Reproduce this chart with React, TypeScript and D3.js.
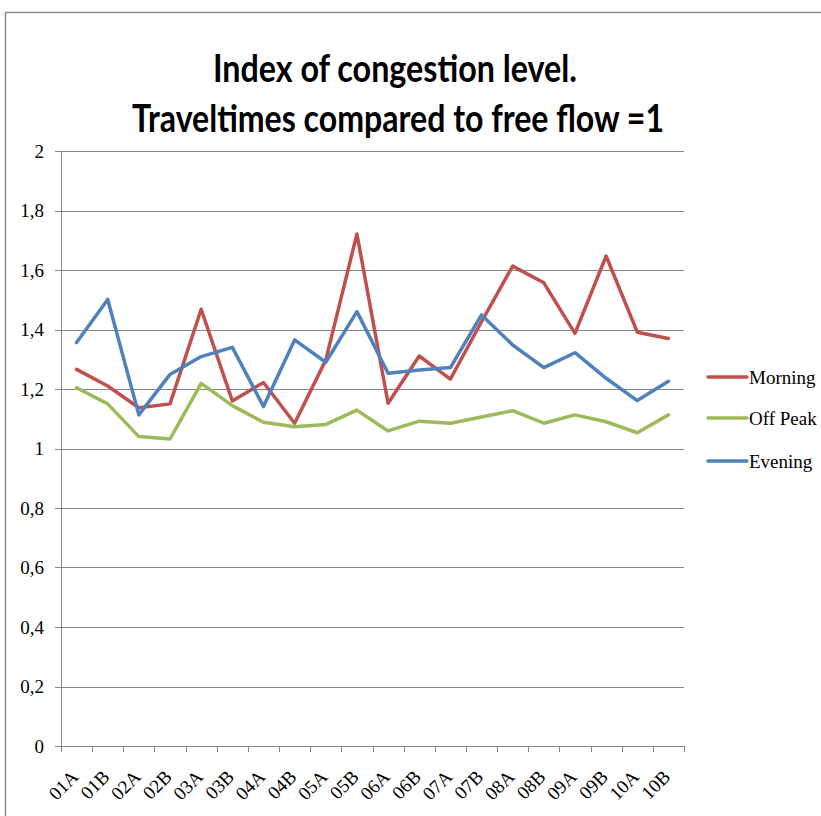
import React from "react";
import * as d3 from "d3";

const categories = ["01A","01B","02A","02B","03A","03B","04A","04B","05A","05B","06A","06B","07A","07B","08A","08B","09A","09B","10A","10B"];
const morning = [1.266,1.210,1.137,1.150,1.468,1.160,1.222,1.085,1.297,1.721,1.152,1.311,1.233,1.426,1.613,1.557,1.387,1.647,1.391,1.370];
const offPeak = [1.204,1.150,1.040,1.032,1.219,1.144,1.088,1.073,1.081,1.129,1.059,1.092,1.085,1.106,1.127,1.085,1.113,1.090,1.053,1.113];
const evening = [1.356,1.501,1.113,1.249,1.309,1.340,1.141,1.365,1.290,1.460,1.253,1.264,1.272,1.449,1.348,1.272,1.322,1.236,1.161,1.226];
const yTicks = [0,0.2,0.4,0.6,0.8,1,1.2,1.4,1.6,1.8,2];
const seriesNames = ["Morning","Off Peak","Evening"];
const seriesColors = ["#C0504D","#9BBB59","#4F81BD"];
const titleLines = ["Index of congestion level.","Traveltimes compared to free flow =1"];

const W = 821, H = 816;
const left = 61, right = 684, top = 151, bottom = 746;

export default function App() {
  const x = d3.scalePoint<string>().domain(categories).range([left, right]).padding(0.5);
  const band = (right - left) / categories.length;
  const y = d3.scaleLinear().domain([0, 2]).range([bottom, top]);
  const line = d3.line<number>().x((_, i) => x(categories[i]) as number).y(d => y(d));
  const series = [morning, offPeak, evening];
  const fmt = (v: number) => (Math.round(v * 10) / 10).toString().replace(".", ",");
  const grid = "#878787";
  return (
    <svg width={W} height={H} style={{ position: "absolute", left: 0, top: 0, background: "#fff" }}>
      <rect x={5.5} y={12.5} width={W} height={H} fill="#fff" stroke="#8c8c8c" strokeWidth={1.5} />
      {titleLines.map((t, i) => (
        <text key={t} x={i === 0 ? 395 : 398} y={82 + i * 50} textAnchor="middle" fontFamily="Lato, 'Open Sans', sans-serif" fontWeight={700} fontSize={38}
          textLength={i === 0 ? 364 : 532} lengthAdjust="spacingAndGlyphs" fill="#000">{t}</text>
      ))}
      {yTicks.map(v => (
        <g key={v}>
          <line x1={left - 6} x2={right} y1={Math.round(y(v)) + 0.5} y2={Math.round(y(v)) + 0.5} stroke={grid} strokeWidth={1} />
          <text x={44} y={y(v)} dy="0.35em" textAnchor="end" fontFamily="'Liberation Serif', serif" fontSize={19} fill="#000">{fmt(v)}</text>
        </g>
      ))}
      <line x1={left + 0.5} x2={left + 0.5} y1={top} y2={bottom} stroke={grid} strokeWidth={1} />
      {d3.range(categories.length + 1).map(i => (
        <line key={i} x1={Math.round(left + i * band) + 0.5} x2={Math.round(left + i * band) + 0.5} y1={bottom} y2={bottom + 6} stroke={grid} strokeWidth={1} />
      ))}
      {categories.map(c => {
        const cx = x(c) as number;
        return (
          <text key={c} transform={`translate(${cx + 3},${778}) rotate(-45)`} textAnchor="end" fontFamily="'Liberation Serif', serif" fontSize={19} fill="#000">{c}</text>
        );
      })}
      {series.map((s, i) => (
        <path key={seriesNames[i]} d={line(s) || ""} fill="none" stroke={seriesColors[i]} strokeWidth={3.5} strokeLinejoin="round" strokeLinecap="round" />
      ))}
      {seriesNames.map((n, i) => {
        const ly = [377, 418, 461][i];
        return (
          <g key={n}>
            <line x1={708} x2={747} y1={ly} y2={ly} stroke={seriesColors[i]} strokeWidth={3.5} strokeLinecap="round" />
            <text x={749} y={ly} dy="0.35em" fontFamily="'Liberation Serif', serif" fontSize={19} fill="#000">{n}</text>
          </g>
        );
      })}
    </svg>
  );
}
